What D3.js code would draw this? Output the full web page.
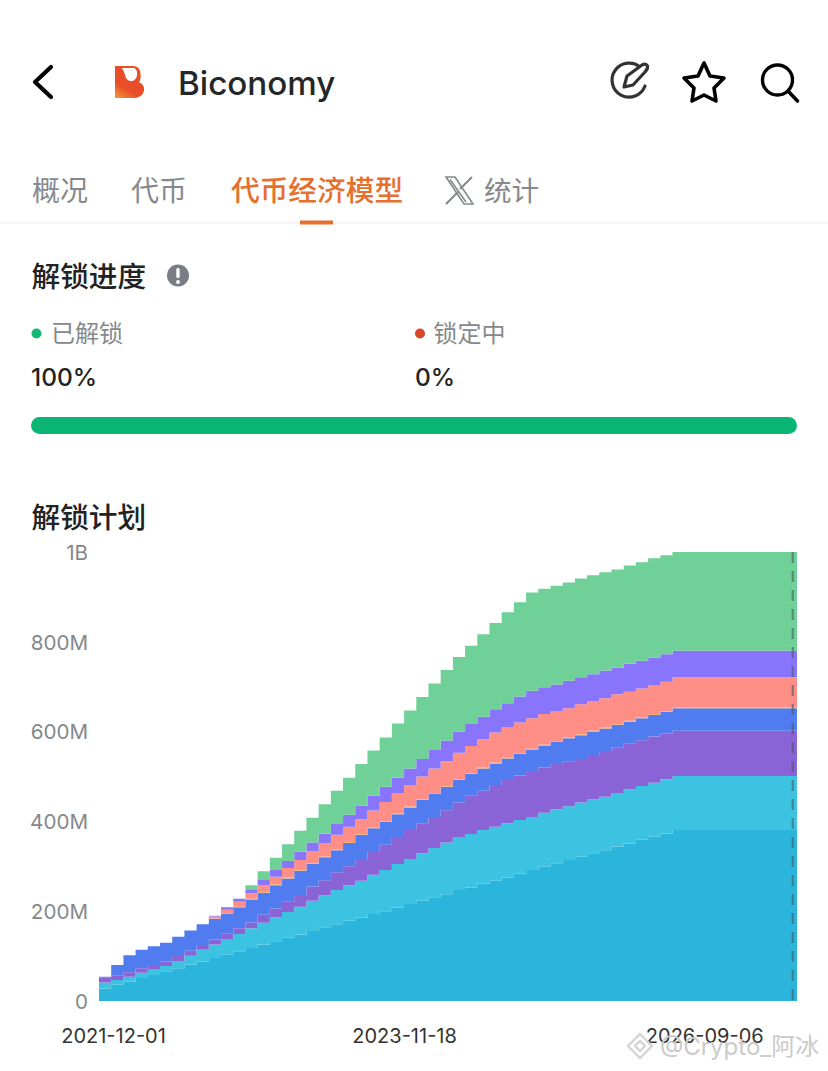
<!DOCTYPE html>
<html lang="zh"><head><meta charset="utf-8">
<script src="https://cdn.jsdelivr.net/npm/d3@7"></script>
<style>
html,body{margin:0;padding:0;background:#fff;overflow:hidden}
svg{display:block}
.cjk{font-family:"Noto Sans CJK SC","Noto Sans",sans-serif}
.lat{font-family:Inter,Roboto,"Noto Sans",sans-serif}
.axis path,.axis line{display:none}
</style></head><body>
<svg id="c" width="828" height="1071" viewBox="0 0 828 1071"></svg>
<script>
// Values in millions of tokens, one per month from 2021-12 to 2026-09
const seriesNames = ["s1","s2","s3","s4","s5","s6","s7","s8"];
const s1 = [28,36,43,51,58,66,73,81,88,96,103,111,118,126,133,141,148,156,164,171,179,186,194,200,208,216,223,231,238,247,253,261,268,275,284,292,299,307,314,321,329,336,344,351,359,366,373,381,381,381,381,381,381,381,381,381,381,381];
const s2 = [13,11,11,12,13,12,16,20,26,30,35,38,44,48,53,57,62,67,71,76,79,82,87,92,97,100,106,110,115,118,119,120,120,121,119,118,120,120,120,121,120,119,119,120,120,120,121,120,120,120,120,120,120,120,120,120,120,120];
const s3 = [11,9,10,10,9,10,11,11,11,11,13,13,13,18,20,23,26,32,34,40,42,48,51,56,60,65,67,69,72,77,85,87,93,96,99,102,101,101,99,97,99,102,102,103,102,103,101,101,101,101,101,101,101,101,101,101,101,101];
const s4 = [2,24,38,41,42,42,43,45,46,46,44,47,51,49,52,52,54,50,51,49,52,54,53,51,51,50,52,51,52,50,49,50,48,48,48,48,49,49,52,53,52,50,50,48,49,48,49,50,50,50,50,50,50,50,50,50,50,50];
const s5 = [0,0,0,0,0,0,0,0,0,1,1,1,2,2,2,2,2,2,2,2,2,2,2,2,2,2,2,2,2,2,2,2,2,2,2,2,2,2,2,2,2,2,2,2,2,2,2,2,2,2,2,2,2,2,2,2,2,2];
const s6 = [0,0,0,0,0,0,0,0,0,4,7,11,12,15,17,21,22,26,29,32,34,33,37,42,45,48,50,55,55,59,60,63,67,67,68,68,68,67,65,67,66,65,66,65,64,65,65,67,67,67,67,67,67,67,67,67,67,67];
const s7 = [0,0,0,0,0,0,0,0,0,2,6,7,9,13,15,16,19,20,22,24,27,30,33,34,35,37,39,41,46,47,49,50,52,54,58,61,60,59,61,60,60,62,59,62,62,61,61,59,59,59,59,59,59,59,59,59,59,59];
const s8 = [0,0,0,0,0,0,0,0,0,0,0,0,9,18,27,37,46,55,65,74,82,93,101,110,120,129,138,148,157,166,174,184,192,203,210,219,219,220,219,220,220,219,219,219,219,221,221,220,220,220,220,220,220,220,220,220,220,220];
const seriesColors = ["#2bb5dc","#3cc3e2","#8a63d6","#507cf0","#f5b26b","#ff8f86","#8875fb","#70d198"];
const yTicks = [0,200,400,600,800,1000];
const xTickLabels = ["2021-12-01","2023-11-18","2026-09-06"];
const xTickIndex = [1.15,25,49.6];
const monthCount = s1.length;
const dashMarkerIndex = 56.85;

const svg = d3.select("#c");
const x = d3.scaleLinear().domain([0,57.2]).range([99,797]);
const y = d3.scaleLinear().domain([0,1000]).range([1001,552]);

// ---------- chart ----------
const rows = d3.range(monthCount).map(i=>{
  const r={i};
  [s1,s2,s3,s4,s5,s6,s7,s8].forEach((s,k)=>r[seriesNames[k]]=s[i]);
  return r;
});
rows.push({...rows[rows.length-1], i:x.domain()[1]});
const stack = d3.stack().keys(seriesNames)(rows);
const area = d3.area().curve(d3.curveStepAfter)
  .x(d=>x(d.data.i)).y0(d=>y(d[0])).y1(d=>y(d[1]));
svg.append("g").selectAll("path").data(stack).join("path")
  .attr("d",area).attr("fill",(d,i)=>seriesColors[i]);

svg.append("line").attr("x1",x(dashMarkerIndex)).attr("x2",x(dashMarkerIndex))
  .attr("y1",y(1000)).attr("y2",y(0))
  .attr("stroke","#4a5a60").attr("stroke-opacity",.6).attr("stroke-width",2.2)
  .attr("stroke-dasharray","11 8");

const yAxis = svg.append("g").attr("class","axis lat").attr("transform","translate(92,0)")
  .call(d3.axisLeft(y).tickValues(yTicks).tickSize(0).tickPadding(4)
    .tickFormat(v=>v===1000?"1B":v===0?"0":v+"M"));
yAxis.selectAll("text").attr("font-size",20.6).attr("fill","#84888c").attr("dy","0.35em")
  .style("font-family","Inter,sans-serif");
const xAxis = svg.append("g").attr("class","axis lat").attr("transform","translate(0,1029)")
  .call(d3.axisBottom(x).tickValues(xTickIndex).tickSize(0).tickPadding(0)
    .tickFormat((v,i)=>xTickLabels[i]));
xAxis.selectAll("text").attr("font-size",20).attr("fill","#333").attr("dy","0.71em")
  .style("font-family","Inter,sans-serif");

// ---------- page chrome ----------
function text(t,xp,yp,size,fill,cls,weight){
  return svg.append("text").attr("x",xp).attr("y",yp).attr("font-size",size)
    .attr("fill",fill).attr("class",cls).attr("font-weight",weight||400).text(t);
}
// back chevron
svg.append("path").attr("d","M51 67 L35 82 L51 97").attr("fill","none").attr("stroke","#000")
  .attr("stroke-width",4.2).attr("stroke-linecap","round").attr("stroke-linejoin","round");
// logo
const defs=svg.append("defs");
const lg=defs.append("linearGradient").attr("id","lg").attr("x1",0).attr("y1",1).attr("x2",.4).attr("y2",.3);
lg.append("stop").attr("offset",0).attr("stop-color","#f39a3c");
lg.append("stop").attr("offset",.55).attr("stop-color","#e84e27");
svg.append("path").attr("d","M115 66 H133 Q140 66 140.5 74 Q141 80 139 82 Q145 85 144 91 Q142 98 134 98 H115 Z").attr("fill","url(#lg)");
svg.append("path").attr("d","M122 68 H134 Q138 70 137 76 Q135 82 130 81 Q126 80 125 75 Q124 71 122 68 Z").attr("fill","#fff");
text("Biconomy",178,95,33.2,"#242628","lat",500);
// edit icon
svg.append("path").attr("d","M641 68 A17 17 0 1 0 645 86").attr("fill","none").attr("stroke","#333").attr("stroke-width",3.2).attr("stroke-linecap","round");
svg.append("path").attr("d","M624 87 L627 76 L642 65 Q646 63 647.5 66 Q648 69 645 72 L633 85 Z").attr("fill","#fff").attr("stroke","#333").attr("stroke-width",3.2).attr("stroke-linejoin","round");
// star
svg.append("path").attr("d","M704 63 L710 76 L724 78 L714 88 L716 101 L704 95 L692 101 L694 88 L684 78 L698 76 Z").attr("fill","none").attr("stroke","#000").attr("stroke-width",3.6).attr("stroke-linejoin","round");
// search
svg.append("circle").attr("cx",777.5).attr("cy",80).attr("r",15).attr("fill","none").attr("stroke","#000").attr("stroke-width",3.4);
svg.append("line").attr("x1",788).attr("y1",91).attr("x2",797.5).attr("y2",101).attr("stroke","#000").attr("stroke-width",3.6).attr("stroke-linecap","round");
// tabs
text("概况",32,201,28,"#85898d","cjk");
text("代币",131,201,28,"#85898d","cjk");
text("代币经济模型",231,201,28.7,"#e76f2d","cjk",500);
svg.append("path").attr("d","M446 177 H455 L473 204 H464 Z M450 179.5 L466 202").attr("fill","none").attr("stroke","#85898d").attr("stroke-width",1.6);
svg.append("path").attr("d","M472 177 L460 189 M458 192 L446 204").attr("fill","none").attr("stroke","#85898d").attr("stroke-width",2);
text("统计",484,201,27.5,"#85898d","cjk");
svg.append("rect").attr("x",0).attr("y",221).attr("width",828).attr("height",3).attr("fill","#f7f7f7");
svg.append("rect").attr("x",300).attr("y",220.5).attr("width",33).attr("height",4).attr("fill","#e76f2d");
// progress
text("解锁进度",31.5,287,28.7,"#222","cjk",500);
svg.append("circle").attr("cx",178).attr("cy",275.5).attr("r",11).attr("fill","#7a7d84");
svg.append("rect").attr("x",176.3).attr("y",268).attr("width",3.4).attr("height",10).attr("rx",1.5).attr("fill","#fff");
svg.append("circle").attr("cx",178).attr("cy",282).attr("r",1.9).attr("fill","#fff");
svg.append("circle").attr("cx",36.5).attr("cy",333.5).attr("r",5).attr("fill","#14b873");
text("已解锁",51,342,24,"#85898d","cjk");
text("100%",31,386,24.5,"#222","lat",500);
svg.append("circle").attr("cx",420).attr("cy",333.5).attr("r",5).attr("fill","#d9492e");
text("锁定中",433.5,342,24,"#85898d","cjk");
text("0%",415,386,24.5,"#222","lat",500);
svg.append("rect").attr("x",31).attr("y",417).attr("width",766).attr("height",17).attr("rx",8.5).attr("fill","#0bb573");
text("解锁计划",31.5,528,28.7,"#222","cjk",500);
// watermark
const wm=svg.append("g").attr("fill","none").attr("stroke","#d5d5d5").attr("stroke-width",2.4);
wm.append("path").attr("d","M640 1034 L652 1046 L640 1058 L628 1046 Z");
wm.append("path").attr("d","M640 1041 L645 1046 L640 1051 L635 1046 Z");
text("@Crypto_阿冰",660,1055,24,"#cacaca","cjk").style("font-family","Inter,'Noto Sans CJK SC',sans-serif");
</script>
</body></html>
